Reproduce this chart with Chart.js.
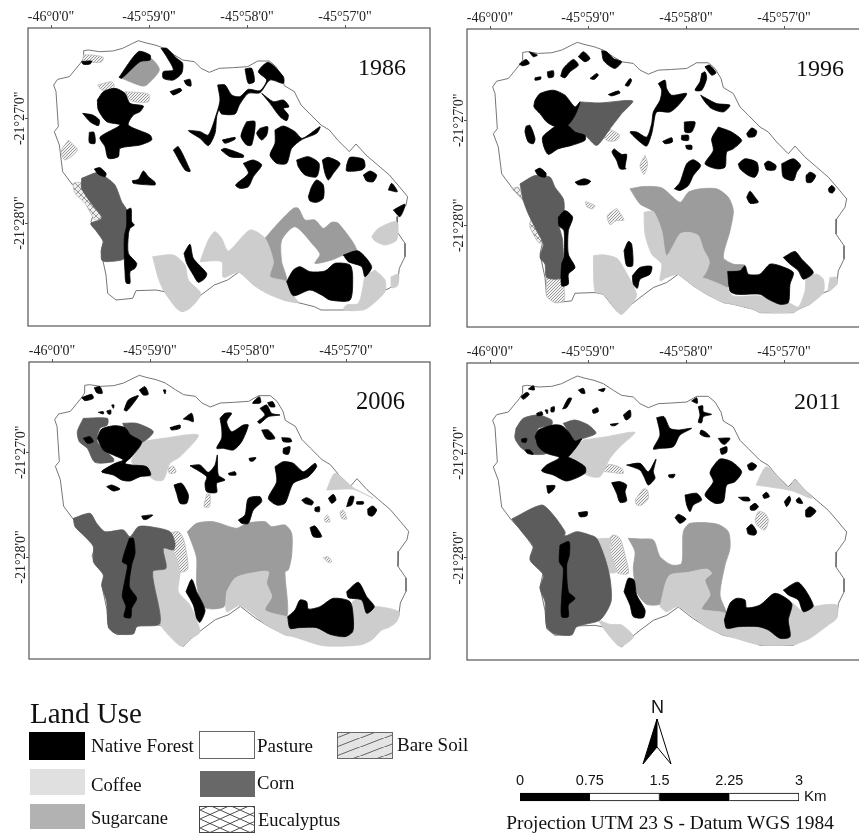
<!DOCTYPE html>
<html>
<head>
<meta charset="utf-8">
<title>Land Use</title>
<script src="https://cdn.jsdelivr.net/npm/chart.js@4/dist/chart.umd.min.js"></script>
<style>
  html, body { margin: 0; padding: 0; background: #fff; width: 859px; height: 834px; overflow: hidden; }
  canvas { position: absolute; }
  svg { position: absolute; left: 0; top: 0; pointer-events: none; }
  .serif { font-family: "Liberation Serif", serif; fill: #111; }
  .sans { font-family: "Liberation Sans", sans-serif; fill: #111; }
</style>
</head>
<body>
<canvas id="map1986" width="431" height="327" style="left:0;top:0"></canvas>
<canvas id="map1996" width="441" height="327" style="left:439px;top:1px"></canvas>
<canvas id="map2006" width="430" height="326" style="left:1px;top:334px"></canvas>
<canvas id="map2011" width="441" height="326" style="left:439px;top:335px"></canvas>
<canvas id="scalebar" width="320" height="40" style="left:500px;top:770px"></canvas>

<svg width="859" height="834">
  <defs>
    <pattern id="legendBare" width="24" height="9" patternUnits="userSpaceOnUse">
      <path d="M-2 10 L26 -1" stroke="#444" stroke-width="0.8"/>
    </pattern>
    <pattern id="legendEuc" width="20" height="9" patternUnits="userSpaceOnUse">
      <path d="M0 0 L20 9 M0 9 L20 0" stroke="#222" stroke-width="0.8" fill="none"/>
    </pattern>
  </defs>
  <text class="serif" x="358" y="75" font-size="24">1986</text>
  <text class="serif" x="796" y="76" font-size="24">1996</text>
  <text class="serif" x="356" y="409" font-size="24.5">2006</text>
  <text class="serif" x="794" y="409" font-size="24">2011</text>

  <text class="serif" x="30" y="723" font-size="29">Land Use</text>
  <rect x="29" y="732" width="56" height="28" fill="#000"/>
  <rect x="199.5" y="731.5" width="55" height="27" fill="#fff" stroke="#666"/>
  <rect x="337.5" y="732.5" width="55" height="26" fill="#e4e4e4"/>
  <rect x="337.5" y="732.5" width="55" height="26" fill="url(#legendBare)" stroke="#666"/>
  <rect x="30" y="769" width="55" height="26" fill="#e0e0e0"/>
  <rect x="200" y="771" width="55" height="26" fill="#686868"/>
  <rect x="30" y="804" width="55" height="25" fill="#b2b2b2"/>
  <rect x="199.5" y="806.5" width="55" height="26" fill="url(#legendEuc)" stroke="#444"/>
  <text class="serif" x="91" y="752" font-size="19">Native Forest</text>
  <text class="serif" x="257" y="752" font-size="19">Pasture</text>
  <text class="serif" x="397" y="751" font-size="19">Bare Soil</text>
  <text class="serif" x="91" y="791" font-size="18.7">Coffee</text>
  <text class="serif" x="257" y="789" font-size="18.7">Corn</text>
  <text class="serif" x="91" y="824" font-size="18.5">Sugarcane</text>
  <text class="serif" x="258" y="826" font-size="18.5">Eucalyptus</text>

  <text class="sans" x="651" y="713" font-size="18">N</text>
  <path d="M657 719 L643 764 L657 747 Z" fill="#000" stroke="#000"/>
  <path d="M657 719 L671 764 L657 747 Z" fill="#fff" stroke="#000"/>
  <text class="sans" x="804" y="801" font-size="15">Km</text>
  <text class="serif" x="670" y="829" font-size="19.4" text-anchor="middle">Projection UTM 23 S - Datum WGS 1984</text>
</svg>

<script>
// axis labels
const lonLabels = ['-46°0\'0"', '-45°59\'0"', '-45°58\'0"', '-45°57\'0"'];
const latLabels = ['-21°27\'0"', '-21°28\'0"'];
const scaleTicks = [0, 0.75, 1.5, 2.25, 3];
const scaleSegments = [0.75, 0.75, 0.75, 0.75];

// basin boundary, map grid units (294 = 1' lon, 314 = 1' lat)
const basin = [248,157,262,155,295,160,335,158,365,150,395,135,412,127,432,133,462,140,490,150,520,170,545,185,580,190,600,210,625,222,655,210,695,208,740,205,770,188,805,188,825,205,843,235,850,262,880,280,900,320,925,345,960,380,985,395,1010,425,1045,460,1065,437,1095,470,1130,500,1165,530,1195,565,1220,595,1215,620,1190,655,1188,700,1212,735,1212,775,1195,810,1190,850,1165,870,1140,880,1110,910,1075,925,1060,935,960,935,940,925,880,910,850,905,800,880,760,855,715,820,680,845,640,860,600,890,575,910,545,940,530,930,490,880,465,875,405,877,395,900,345,905,320,885,315,830,300,760,310,715,270,670,280,640,240,585,215,560,185,520,175,440,160,400,172,385,165,280,158,260,170,243,205,235,238,195,248,180,248,157];

// 1986
const forest1986 = [
  [357,232,415,155,450,165,450,180,420,185,365,235],
  [483,145,500,145,530,175,548,190,545,220,520,240,490,235,490,215,520,210,500,170],
  [245,185,275,183,270,192,250,193],
  [552,242,570,238,573,258,560,255],
  [510,275,540,265,545,272,520,285],
  [292,300,310,275,345,265,375,280,390,310,430,318,420,335,400,345,385,375,450,405,455,420,420,435,360,445,355,470,325,475,315,440,300,412,360,375,320,365,295,330],
  [248,340,278,345,298,360,295,377,270,365],
  [268,397,282,397,285,430,268,428],
  [653,255,675,255,695,285,720,290,745,268,780,272,800,240,775,215,805,187,850,230,850,250,810,240,780,278,745,280,718,315,705,342,665,342,657,330,650,350,645,400,625,437,600,415,565,392,600,395,625,405,650,340,660,300],
  [735,207,755,205,763,245,745,250],
  [785,280,820,305,850,300,867,320,850,325,865,345,860,362,840,350,810,310],
  [740,365,765,365,755,435,740,435,723,410,730,385],
  [780,385,803,380,800,405,785,420,770,400],
  [667,420,705,412,705,418,675,430],
  [663,450,675,445,730,465,730,472,690,470],
  [825,390,850,378,885,395,907,415,960,380,950,400,907,418,875,445,860,490,830,490,810,465,825,430],
  [890,480,925,470,957,490,950,530,915,525,895,500],
  [967,480,985,472,1020,490,1000,520,985,540,975,520],
  [1040,495,1050,472,1090,478,1095,500,1085,510,1040,513],
  [1090,525,1110,513,1130,525,1120,545,1100,543],
  [925,590,935,560,950,540,970,555,970,595,950,607,930,603],
  [1165,570,1175,550,1192,575],
  [1180,630,1215,613,1200,650],
  [520,450,535,440,570,510,570,515,555,510],
  [730,490,760,480,785,495,760,530,745,560,720,565,707,555,745,520],
  [283,507,300,503,318,520,315,530,295,523],
  [397,542,415,538,430,513,445,530,465,547,465,555,400,550],
  [380,630,393,625,395,665,403,675,390,685,385,705,385,760,410,790,405,805,390,815,390,850,378,848,375,815,373,775,373,710,380,675],
  [552,760,570,733,580,775,620,820,615,835,595,847,580,825,560,790],
  [860,845,880,810,900,800,930,815,975,813,1005,790,1050,795,1058,830,1050,900,990,900,965,885,930,870,880,887],
  [1030,765,1075,753,1115,800,1095,830,1085,800,1045,785]
];
const corn1986 = [
  [245,535,295,517,320,533,345,555,365,605,380,630,380,675,373,710,373,775,320,785,305,780,305,745,310,725,290,695,272,670,300,660,305,650,270,605,245,565]
];
const eucalyptus1986 = [
  [218,550,240,547,250,570,290,620,305,660,285,660,255,610,225,580]
];
const sugarcane1986 = [
  [365,235,420,185,452,175,478,210,440,255,425,258],
  [795,715,825,680,880,625,895,625,915,660,945,660,970,685,995,667,1015,670,1070,750,1030,765,995,780,945,790,960,763,940,735,885,680,845,720,845,785,860,840,835,855,810,830,820,785]
];
const coffee1986 = [
  [458,770,520,765,555,795,565,840,600,875,600,890,570,925,545,935,525,920,490,870,475,835],
  [600,785,625,720,645,695,665,715,685,753,750,690,795,715,820,785,810,830,860,845,880,887,895,908,850,900,800,880,760,855,715,817,670,832,665,785],
  [1115,710,1135,685,1190,665,1190,720,1155,735,1125,723],
  [1125,810,1155,840,1155,875,1115,915,1090,930,1030,930,1040,915,1075,910,1090,855,1095,830],
  [1173,830,1195,823,1193,857,1175,863]
];
const bare1986 = [
  [250,165,275,165,310,172,303,187,250,182],
  [293,255,335,245,343,258,335,268,305,270],
  [375,275,445,282,445,305,395,303],
  [205,420,232,450,195,480,183,455]
];

// 1996
const forest1996 = [
  [285,300,300,280,340,270,375,285,405,320,420,305,405,345,382,375,345,378,320,365,300,340,282,320],
  [345,378,382,375,405,395,435,405,435,420,395,435,355,445,325,462,312,440,308,410],
  [258,378,270,375,285,415,280,430,265,425,255,395],
  [285,510,300,503,318,518,315,530,295,525],
  [405,545,432,535,452,542,440,552,415,553],
  [522,445,545,462,560,462,555,500,558,505,540,505,530,480,516,455],
  [268,155,292,165,280,170],
  [238,192,258,178,268,190,248,197],
  [362,228,370,205,400,178,415,195,390,215,375,233],
  [415,170,430,155,450,175,435,185],
  [485,152,500,155,520,175,545,185,525,205,505,195,490,180],
  [322,215,340,212,340,230,325,232],
  [285,233,302,230,302,237,285,240],
  [450,235,470,220,475,225,462,238],
  [555,255,570,235,575,240,565,258],
  [505,283,535,272,540,278,515,287],
  [655,250,675,240,680,265,695,285,740,280,715,315,690,335,650,335,640,375,635,400,620,437,600,425,570,395,590,395,620,410,635,370,640,335,660,300,665,270],
  [785,220,795,215,800,235,785,270,765,270,780,245],
  [795,200,808,195,828,218,815,225],
  [782,285,800,295,830,310,870,315,850,335,815,325,795,305],
  [733,365,765,365,755,395,735,395],
  [725,405,745,405,745,420,725,418],
  [737,435,755,435,755,447,740,445],
  [668,423,695,412,697,425,675,430],
  [835,380,875,395,905,420,880,445,860,455,855,500,830,505,795,490,820,450,815,415],
  [920,400,935,383,950,392,945,408,925,410],
  [895,490,915,475,950,485,955,510,945,530,925,525,900,505],
  [973,490,985,482,1008,495,1005,508,980,508],
  [1025,490,1060,475,1082,495,1070,515,1060,540,1030,530],
  [1098,525,1110,515,1127,525,1115,545,1100,545],
  [1165,565,1175,555,1185,565,1178,577,1168,575],
  [920,590,930,572,945,590,955,605,930,608],
  [703,565,720,545,740,490,760,478,782,495,760,525,745,555,720,570],
  [355,650,375,630,398,650,385,690,385,760,405,800,385,820,385,850,365,855,365,790,372,770,372,690,357,675],
  [552,750,565,722,575,730,578,795,560,795],
  [577,825,600,800,635,797,630,820,600,835,592,862,580,850],
  [863,812,900,810,915,795,925,820,960,820,990,790,1020,795,1060,815,1050,850,1045,905,1020,910,985,895,960,880,890,880,870,870],
  [1030,770,1065,752,1085,775,1120,815,1090,835,1075,810,1050,790]
];
const corn1996 = [
  [420,305,480,308,578,302,545,340,510,385,470,435,435,405,405,395,382,375,405,345],
  [240,550,285,525,330,530,345,560,370,595,372,630,357,670,368,720,365,830,320,830,315,790,300,770,310,730,290,690,265,640,250,600]
];
const eucalyptus1996 = [
  [215,565,235,560,250,590,285,625,305,660,280,660,290,690,310,725,295,725,270,680,270,665,280,640,240,590]
];
const sugarcane1996 = [
  [570,565,610,558,665,562,720,605,745,575,780,565,830,565,865,590,880,630,870,690,850,770,880,790,915,795,860,860,785,830,808,785,790,745,775,705,745,695,720,700,680,765,665,690,640,633,600,610]
];
const coffee1996 = [
  [460,765,490,762,530,772,550,800,590,880,575,910,545,940,530,930,490,880,465,872],
  [612,635,640,633,665,690,680,765,720,700,745,695,775,705,790,745,808,785,785,830,715,820,680,830,660,840,665,790,635,760,615,700],
  [715,820,785,830,860,860,880,885,960,885,1045,905,1075,918,1095,870,1100,830,1130,820,1150,835,1150,875,1110,910,1075,925,1060,935,960,935,940,925,880,910,850,905,800,880,760,855],
  [1170,830,1190,830,1190,850,1165,872]
];
const bare1996 = [
  [510,387,538,403,530,420,505,422,492,410],
  [615,465,623,490,612,522,600,495],
  [437,603,465,615,458,625,440,618],
  [530,623,552,658,528,660,510,672,502,645],
  [320,830,365,830,372,860,372,900,345,905,320,885]
];

// 2006
const forest2006 = [
  [245,188,275,178,280,190,255,197],
  [283,158,300,155,307,175,290,173],
  [418,165,435,155,445,178,430,180],
  [372,225,385,195,415,182,400,205,380,228],
  [490,165,497,165,495,177],
  [335,210,342,210,340,220],
  [295,232,310,230,310,237],
  [320,228,332,225,332,237,325,237],
  [510,278,540,270,540,280,515,285],
  [550,252,575,235,580,260,565,255],
  [292,310,305,282,345,272,375,278,392,300,425,322,395,365,375,385,395,390,440,395,452,420,420,425,390,438,365,435,340,420,305,410,345,385,370,375,340,360,310,345],
  [250,310,270,305,280,320,262,325],
  [320,455,335,450,360,462,340,468],
  [522,450,545,445,565,480,560,505,540,505,530,475],
  [425,543,458,540,440,553,430,553],
  [660,250,675,235,695,235,680,260,695,290,730,270,745,270,725,320,700,345,670,340,650,340,665,310,665,280],
  [570,392,600,390,625,412,645,390,652,360,655,420,675,435,650,445,650,472,620,470,615,445,620,425],
  [780,220,800,210,815,235,840,240,805,245,780,265,773,260,795,240],
  [762,198,778,185,782,203,758,205],
  [803,203,818,200,825,215,810,215],
  [785,285,805,285,825,310,800,312],
  [845,308,870,310,875,320,850,320],
  [850,340,870,335,865,358,850,355],
  [747,370,768,368,760,378,750,378],
  [685,415,705,410,708,420,688,420],
  [825,395,850,380,880,385,910,410,945,385,950,395,925,425,880,445,855,505,830,510,805,490,830,440],
  [715,555,735,540,745,490,780,485,785,500,760,525,745,565,725,565],
  [905,495,920,488,940,500,935,510,915,505],
  [945,518,958,515,958,530,945,528],
  [985,490,1000,478,1008,495,995,505],
  [1040,515,1050,485,1062,485,1055,510],
  [1070,500,1090,500,1090,507,1070,507],
  [1103,522,1118,513,1130,525,1118,543,1105,540],
  [930,578,945,573,965,605,940,605],
  [388,610,400,610,405,655,395,690,388,755,410,790,395,820,392,848,372,845,378,815,367,785,370,760,378,720,382,690,367,680],
  [558,770,575,733,590,770,615,825,600,862,590,850,580,810],
  [863,845,885,825,900,795,920,800,925,822,960,815,1000,790,1050,800,1060,850,1058,890,1035,905,990,898,950,878,895,878,870,880],
  [1040,770,1075,742,1100,785,1123,815,1100,835,1085,795,1045,788]
];
const corn2006 = [
  [250,250,322,250,322,270,300,280,292,320,340,370,340,380,285,382,262,340,238,320,232,290],
  [368,265,410,265,460,290,425,322,392,300,375,280],
  [220,550,270,535,290,565,315,590,370,585,390,605,415,575,450,575,510,590,525,625,520,645,490,640,498,700,458,710,480,865,410,875,400,897,345,895,325,875,320,800,305,750,310,720,280,680,280,635,250,600,225,575]
];
const eucalyptus2006 = [];
const sugarcane2006 = [
  [562,590,590,565,640,560,710,580,740,565,795,560,815,575,855,570,875,595,875,660,865,705,855,710,860,845,795,825,815,785,800,745,805,710,750,715,705,730,680,770,672,815,620,820,600,790,590,745,590,670,578,630]
];
const coffee2006 = [
  [425,320,490,310,595,300,540,365,510,385,490,435,465,435,430,410,395,380],
  [980,465,1005,415,1060,458,1120,490,1060,463],
  [490,640,520,650,540,710,535,770,570,810,600,890,575,910,548,934,530,925,480,865,458,710,498,700],
  [680,770,705,730,750,715,805,710,800,745,815,785,795,825,860,845,863,845,870,880,895,878,950,878,990,898,1035,905,1058,890,1058,800,1085,795,1100,835,1125,815,1197,830,1190,860,1165,878,1145,885,1115,915,1080,930,970,932,880,905,855,900,800,870,720,812,680,830]
];
const bare2006 = [
  [490,600,535,590,550,610,562,670,562,705,535,710,520,650,520,615],
  [505,400,520,393,528,412,508,415],
  [620,477,630,478,628,515,612,515],
  [973,550,982,540,990,560,975,560],
  [1020,530,1030,525,1040,552,1025,550],
  [970,668,985,665,995,680,985,682],
  [675,705,690,695,702,722,695,755,685,740]
];

// 2011
const forest2011 = [
  [243,185,260,172,268,178,250,193],
  [265,162,280,152,283,165],
  [415,165,430,160,435,175,425,175],
  [475,165,495,160,490,170],
  [368,222,385,190,395,190,380,218],
  [333,218,343,215,342,230,333,230],
  [290,235,305,230,308,240,292,242],
  [315,225,323,225,322,237],
  [457,225,472,218,475,230,460,235],
  [550,240,570,225,572,245,558,255],
  [510,268,535,265,525,272,515,272],
  [285,305,295,285,340,270,365,272,385,290,405,318,425,312,385,365,360,370,385,367,435,395,435,415,380,438,340,420,305,408,320,390,358,368,320,355,295,335],
  [245,312,260,310,258,322,245,320],
  [255,345,270,345,280,358,262,355],
  [320,452,345,452,340,465,325,475],
  [415,533,442,530,440,543,420,545],
  [515,443,540,440,560,450,555,470,560,498,540,502,530,475],
  [650,248,672,245,690,280,715,285,755,280,720,300,700,335,660,340,640,342,660,300],
  [560,390,600,385,625,410,648,372,640,410,645,430,625,450,612,425,600,405],
  [775,215,788,212,790,230,815,238,790,245,785,263,775,262,780,240],
  [755,198,770,188,772,205],
  [783,285,795,290,810,305,795,305,780,297],
  [835,310,870,310,855,328,845,325],
  [840,342,860,335,860,352,845,358],
  [685,420,705,418,700,428,688,427],
  [815,400,840,372,875,380,905,410,885,440,860,450,850,500,825,505,795,480,820,440,810,415],
  [922,390,935,383,950,392,940,405,928,405],
  [735,480,770,475,785,495,760,510,750,530,740,510],
  [705,548,715,538,738,552,720,565],
  [895,487,925,487,930,497,910,497],
  [930,515,945,505,955,515,945,525,932,525],
  [968,480,980,472,988,485,972,490],
  [1033,500,1048,483,1052,495,1040,515],
  [1068,495,1078,488,1088,505,1072,503],
  [1097,525,1110,515,1128,528,1112,545,1098,545],
  [920,580,935,568,950,590,945,600,925,597],
  [360,630,387,620,388,660,380,690,385,770,405,790,385,810,385,845,365,845,365,790,370,700,358,680],
  [552,770,565,730,582,735,590,780,615,825,610,848,580,845,570,810],
  [853,855,870,805,890,790,915,795,920,818,960,810,1005,775,1055,805,1045,855,1050,905,1020,910,985,885,955,875,895,875,860,880],
  [1030,765,1075,742,1120,812,1090,830,1075,795,1045,780]
];
const corn2011 = [
  [228,280,250,250,295,240,335,255,335,270,295,280,285,310,295,335,320,355,280,358,245,340,225,310],
  [370,265,405,255,445,270,468,295,425,312,405,320,385,290],
  [215,552,305,510,340,540,375,590,375,603,410,590,450,600,470,610,495,670,510,730,513,800,480,855,410,875,395,900,345,897,320,875,315,800,300,760,310,720,270,675,280,635,245,590]
];
const eucalyptus2011 = [];
const sugarcane2011 = [
  [565,610,600,612,640,615,660,665,695,690,725,685,730,590,750,565,830,567,865,590,870,640,855,690,840,780,860,835,855,850,785,825,810,780,795,735,815,715,800,702,745,712,690,720,675,750,665,805,620,808,590,770,580,700,585,650]
];
const coffee2011 = [
  [430,315,500,305,585,292,540,335,510,370,480,425,440,420,385,370,405,340],
  [948,450,980,395,1045,458,1065,437,1115,490,1055,467],
  [470,612,510,612,510,650,530,710,505,712,495,670],
  [475,855,510,868,545,870,580,905,543,935,530,928,490,880],
  [660,815,675,750,690,720,745,712,800,702,815,715,795,735,810,780,785,822,855,835,860,880,895,875,955,875,985,885,1020,910,1050,905,1048,855,1055,805,1090,830,1120,815,1190,810,1190,850,1165,870,1110,910,1075,925,1060,930,960,930,880,908,850,900,800,877,715,815,680,830]
];
const bare2011 = [
  [505,612,520,600,540,610,555,660,565,715,530,712,510,650,515,630],
  [495,395,510,388,545,400,550,415,515,412,490,408],
  [585,495,610,462,622,465,625,490,605,510,590,510],
  [945,555,955,530,975,535,985,555,975,585,950,570]
];

const GREY_LINE = '#555';

function makePattern(draw) {
  const c = document.createElement('canvas');
  c.width = 6; c.height = 6;
  draw(c.getContext('2d'));
  return c.getContext('2d').createPattern(c, 'repeat');
}
// bare soil
const hatch = makePattern(ctx => {
  ctx.fillStyle = '#f2f2f2'; ctx.fillRect(0, 0, 6, 6);
  ctx.strokeStyle = '#999'; ctx.lineWidth = 1;
  ctx.beginPath();
  for (let i = -6; i <= 6; i += 3) { ctx.moveTo(i, 6); ctx.lineTo(i + 6, 0); }
  ctx.stroke();
});
// eucalyptus
const cross = makePattern(ctx => {
  ctx.fillStyle = '#eee'; ctx.fillRect(0, 0, 6, 6);
  ctx.strokeStyle = '#999'; ctx.lineWidth = 1;
  ctx.beginPath();
  ctx.moveTo(0, 0); ctx.lineTo(6, 6); ctx.moveTo(0, 6); ctx.lineTo(6, 0);
  ctx.stroke();
});

const toPoints = (flat, dx, dy) => {
  const pts = [];
  for (let i = 0; i < flat.length; i += 2) pts.push({ x: flat[i] + dx, y: flat[i + 1] + dy });
  pts.push({ ...pts[0] });
  return pts;
};

// land use patches, slightly rounded like the raster source
const polygon = (flat, color) => ({
  data: toPoints(flat, 0, 0),
  showLine: true,
  fill: 'shape',
  backgroundColor: color,
  borderColor: color === hatch || color === cross ? '#bbb' : color,
  borderWidth: 0.8,
  pointRadius: 0,
  tension: 0.25,
});

const frameBorder = {
  id: 'frameBorder',
  afterDraw(chart) {
    const { ctx, chartArea: a } = chart;
    ctx.save();
    ctx.strokeStyle = GREY_LINE;
    ctx.lineWidth = 1.2;
    ctx.strokeRect(a.left, a.top, a.right - a.left, a.bottom - a.top);
    ctx.restore();
  },
};

function drawMap(id, layers, range, origin, shift) {
  const sets = [{
    data: toPoints(basin, shift[0], shift[1]),
    showLine: true,
    fill: 'shape',
    backgroundColor: '#fff',
    borderColor: '#666',
    borderWidth: 0.9,
    pointRadius: 0,
  }];
  layers.bare.forEach(p => sets.push(polygon(p, hatch)));
  layers.eucalyptus.forEach(p => sets.push(polygon(p, cross)));
  layers.sugarcane.forEach(p => sets.push(polygon(p, '#9c9c9c')));
  layers.coffee.forEach(p => sets.push(polygon(p, '#cdcdcd')));
  layers.corn.forEach(p => sets.push(polygon(p, '#5c5c5c')));
  layers.forest.forEach(p => sets.push(polygon(p, '#000')));

  new Chart(document.getElementById(id), {
    type: 'scatter',
    // chart.js paints the first dataset last
    data: { datasets: sets.reverse() },
    plugins: [frameBorder],
    options: {
      responsive: false,
      animation: false,
      layout: { autoPadding: false, padding: { right: 1, bottom: 1 } },
      plugins: { legend: { display: false }, tooltip: { enabled: false } },
      scales: {
        x: {
          type: 'linear',
          position: 'top',
          min: range[0], max: range[1],
          afterFit(s) { s.height = 28; },
          afterBuildTicks(s) { s.ticks = lonLabels.map((_, i) => ({ value: origin[0] + i * 294 })); },
          grid: { drawOnChartArea: false, tickLength: 3, color: GREY_LINE },
          border: { display: false },
          ticks: {
            autoSkip: false, maxRotation: 0, padding: -1,
            color: '#222',
            font: { family: 'Liberation Serif', size: 14 },
            callback: (v, i) => lonLabels[i],
          },
        },
        y: {
          type: 'linear',
          reverse: true,
          min: range[2], max: range[3],
          afterFit(s) { s.width = 28; },
          afterBuildTicks(s) { s.ticks = latLabels.map((_, i) => ({ value: origin[1] + i * 314 })); },
          grid: { drawOnChartArea: false, tickLength: 3, color: GREY_LINE },
          border: { display: false },
          ticks: {
            autoSkip: false, minRotation: 90, maxRotation: 90,
            crossAlign: 'center', padding: -22,
            color: '#222',
            font: { family: 'Liberation Serif', size: 14 },
            callback: (v, i) => latLabels[i],
          },
        },
      },
    },
  });
}

drawMap('map1986', { forest: forest1986, corn: corn1986, eucalyptus: eucalyptus1986, sugarcane: sugarcane1986, coffee: coffee1986, bare: bare1986 },
  [84, 1290, 84, 978], [153, 355], [3, -5]);
drawMap('map1996', { forest: forest1996, corn: corn1996, eucalyptus: eucalyptus1996, sugarcane: sugarcane1996, coffee: coffee1996, bare: bare1996 },
  [81, 1317, 87, 978], [150, 360], [0, 0]);
drawMap('map2006', { forest: forest2006, corn: corn2006, eucalyptus: eucalyptus2006, sugarcane: sugarcane2006, coffee: coffee2006, bare: bare2006 },
  [87, 1290, 81, 972], [156, 352], [6, -6]);
drawMap('map2011', { forest: forest2011, corn: corn2011, eucalyptus: eucalyptus2011, sugarcane: sugarcane2011, coffee: coffee2011, bare: bare2011 },
  [81, 1317, 84, 975], [150, 354], [0, -4]);

// scale bar
new Chart(document.getElementById('scalebar'), {
  type: 'bar',
  data: {
    labels: ['Km'],
    datasets: scaleSegments.map((v, i) => ({
      data: [v],
      backgroundColor: i % 2 ? '#fff' : '#000',
      borderColor: '#000',
      borderWidth: 1,
      barThickness: 8,
    })),
  },
  options: {
    indexAxis: 'y',
    responsive: false,
    animation: false,
    layout: { autoPadding: false, padding: { left: 20, right: 21, bottom: 6 } },
    plugins: { legend: { display: false }, tooltip: { enabled: false } },
    scales: {
      x: {
        stacked: true,
        position: 'top',
        min: 0, max: 3,
        afterFit(s) { s.height = 20; },
        afterBuildTicks(s) { s.ticks = scaleTicks.map(v => ({ value: v })); },
        grid: { display: false, drawTicks: false },
        border: { display: false },
        ticks: {
          autoSkip: false, maxRotation: 0, padding: 0,
          color: '#111',
          font: { family: 'Liberation Sans', size: 14.5 },
          callback: v => String(v),
        },
      },
      y: { stacked: true, display: false },
    },
  },
});
</script>
</body>
</html>
